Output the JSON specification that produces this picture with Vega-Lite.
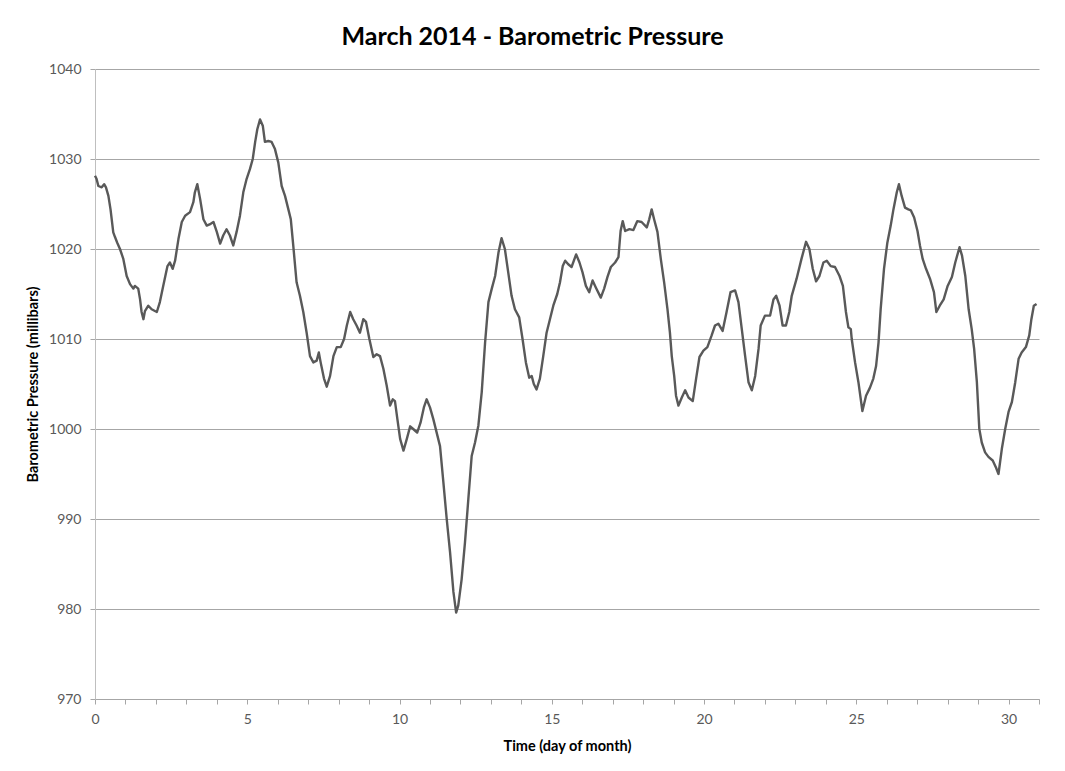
{
  "$schema": "https://vega.github.io/schema/vega-lite/v6.json",
  "autosize": {"type": "none"},
  "width": 944,
  "height": 630,
  "padding": {"left": 95, "top": 69, "right": 26, "bottom": 72},
  "background": "white",
  "title": {
    "text": "March 2014 - Barometric Pressure",
    "font": "Lato",
    "fontSize": 25,
    "fontWeight": "bold",
    "color": "#000000",
    "anchor": "middle",
    "frame": "bounds",
    "offset": 12
  },
  "config": {
    "view": {"stroke": null},
    "axis": {
      "labelFont": "Lato",
      "labelFontSize": 14,
      "labelColor": "#595959",
      "titleFont": "Lato",
      "titleFontSize": 14.5,
      "titleFontWeight": "bold",
      "titleColor": "#000000"
    }
  },
  "data": {
    "values": [
      {"d": 0.0, "p": 1028.15}, {"d": 0.05, "p": 1027.8}, {"d": 0.11, "p": 1027.0}, {"d": 0.22, "p": 1026.85},
      {"d": 0.30, "p": 1027.2}, {"d": 0.36, "p": 1026.85}, {"d": 0.44, "p": 1025.9}, {"d": 0.51, "p": 1024.4},
      {"d": 0.60, "p": 1021.85}, {"d": 0.66, "p": 1021.3}, {"d": 0.73, "p": 1020.7}, {"d": 0.82, "p": 1020.0},
      {"d": 0.93, "p": 1018.9}, {"d": 1.04, "p": 1017.0}, {"d": 1.15, "p": 1016.1}, {"d": 1.26, "p": 1015.6},
      {"d": 1.31, "p": 1015.9}, {"d": 1.42, "p": 1015.6}, {"d": 1.48, "p": 1014.4}, {"d": 1.53, "p": 1013.0},
      {"d": 1.59, "p": 1012.2}, {"d": 1.64, "p": 1013.1}, {"d": 1.75, "p": 1013.7}, {"d": 1.86, "p": 1013.3},
      {"d": 2.03, "p": 1013.0}, {"d": 2.13, "p": 1014.1}, {"d": 2.24, "p": 1015.9}, {"d": 2.38, "p": 1018.1},
      {"d": 2.46, "p": 1018.5}, {"d": 2.55, "p": 1017.8}, {"d": 2.63, "p": 1018.7}, {"d": 2.74, "p": 1021.1},
      {"d": 2.85, "p": 1023.0}, {"d": 2.96, "p": 1023.7}, {"d": 3.12, "p": 1024.1}, {"d": 3.23, "p": 1025.2},
      {"d": 3.28, "p": 1026.3}, {"d": 3.36, "p": 1027.2}, {"d": 3.45, "p": 1025.6}, {"d": 3.56, "p": 1023.3},
      {"d": 3.67, "p": 1022.6}, {"d": 3.80, "p": 1022.8}, {"d": 3.89, "p": 1023.0}, {"d": 4.00, "p": 1021.9},
      {"d": 4.11, "p": 1020.6}, {"d": 4.21, "p": 1021.5}, {"d": 4.32, "p": 1022.2}, {"d": 4.43, "p": 1021.5},
      {"d": 4.54, "p": 1020.4}, {"d": 4.65, "p": 1021.9}, {"d": 4.76, "p": 1023.7}, {"d": 4.87, "p": 1026.3},
      {"d": 4.98, "p": 1027.8}, {"d": 5.09, "p": 1028.9}, {"d": 5.18, "p": 1030.0}, {"d": 5.26, "p": 1031.9},
      {"d": 5.33, "p": 1033.3}, {"d": 5.42, "p": 1034.4}, {"d": 5.51, "p": 1033.7}, {"d": 5.58, "p": 1031.9},
      {"d": 5.69, "p": 1032.0}, {"d": 5.80, "p": 1031.9}, {"d": 5.91, "p": 1031.1}, {"d": 6.02, "p": 1029.6},
      {"d": 6.13, "p": 1027.0}, {"d": 6.24, "p": 1025.9}, {"d": 6.35, "p": 1024.4}, {"d": 6.43, "p": 1023.3},
      {"d": 6.51, "p": 1020.4}, {"d": 6.62, "p": 1016.3}, {"d": 6.73, "p": 1014.8}, {"d": 6.84, "p": 1013.0},
      {"d": 6.95, "p": 1010.7}, {"d": 7.06, "p": 1008.1}, {"d": 7.17, "p": 1007.4}, {"d": 7.28, "p": 1007.6},
      {"d": 7.35, "p": 1008.5}, {"d": 7.41, "p": 1007.4}, {"d": 7.52, "p": 1005.6}, {"d": 7.61, "p": 1004.7},
      {"d": 7.72, "p": 1005.9}, {"d": 7.83, "p": 1008.1}, {"d": 7.94, "p": 1009.1}, {"d": 8.07, "p": 1009.1},
      {"d": 8.18, "p": 1010.0}, {"d": 8.27, "p": 1011.5}, {"d": 8.38, "p": 1013.0}, {"d": 8.48, "p": 1012.2},
      {"d": 8.59, "p": 1011.5}, {"d": 8.70, "p": 1010.7}, {"d": 8.81, "p": 1012.2}, {"d": 8.90, "p": 1011.9},
      {"d": 9.01, "p": 1010.0}, {"d": 9.14, "p": 1008.0}, {"d": 9.25, "p": 1008.3}, {"d": 9.36, "p": 1008.1},
      {"d": 9.47, "p": 1006.7}, {"d": 9.58, "p": 1004.8}, {"d": 9.69, "p": 1002.6}, {"d": 9.78, "p": 1003.3},
      {"d": 9.85, "p": 1003.1}, {"d": 9.93, "p": 1001.1}, {"d": 10.02, "p": 998.9}, {"d": 10.13, "p": 997.6},
      {"d": 10.24, "p": 998.9}, {"d": 10.35, "p": 1000.3}, {"d": 10.45, "p": 1000.0}, {"d": 10.58, "p": 999.6},
      {"d": 10.69, "p": 1000.7}, {"d": 10.80, "p": 1002.4}, {"d": 10.89, "p": 1003.3}, {"d": 11.00, "p": 1002.4},
      {"d": 11.11, "p": 1001.1}, {"d": 11.22, "p": 999.6}, {"d": 11.33, "p": 998.1}, {"d": 11.44, "p": 994.1},
      {"d": 11.55, "p": 990.0}, {"d": 11.66, "p": 986.3}, {"d": 11.77, "p": 981.9}, {"d": 11.86, "p": 979.6},
      {"d": 11.93, "p": 980.4}, {"d": 12.04, "p": 983.3}, {"d": 12.15, "p": 987.4}, {"d": 12.26, "p": 992.2},
      {"d": 12.37, "p": 997.0}, {"d": 12.48, "p": 998.5}, {"d": 12.59, "p": 1000.4}, {"d": 12.70, "p": 1004.1},
      {"d": 12.81, "p": 1009.6}, {"d": 12.92, "p": 1014.1}, {"d": 13.03, "p": 1015.6}, {"d": 13.14, "p": 1017.0},
      {"d": 13.25, "p": 1019.6}, {"d": 13.35, "p": 1021.2}, {"d": 13.46, "p": 1020.0}, {"d": 13.57, "p": 1017.4},
      {"d": 13.68, "p": 1014.8}, {"d": 13.79, "p": 1013.3}, {"d": 13.93, "p": 1012.4}, {"d": 14.04, "p": 1010.0},
      {"d": 14.15, "p": 1007.4}, {"d": 14.26, "p": 1005.7}, {"d": 14.34, "p": 1005.9}, {"d": 14.41, "p": 1005.0},
      {"d": 14.50, "p": 1004.4}, {"d": 14.61, "p": 1005.6}, {"d": 14.72, "p": 1008.1}, {"d": 14.83, "p": 1010.7},
      {"d": 14.94, "p": 1012.2}, {"d": 15.05, "p": 1013.7}, {"d": 15.18, "p": 1015.0}, {"d": 15.27, "p": 1016.3},
      {"d": 15.36, "p": 1018.1}, {"d": 15.44, "p": 1018.7}, {"d": 15.54, "p": 1018.3}, {"d": 15.65, "p": 1018.0},
      {"d": 15.80, "p": 1019.4}, {"d": 15.91, "p": 1018.5}, {"d": 16.01, "p": 1017.4}, {"d": 16.12, "p": 1015.9},
      {"d": 16.23, "p": 1015.2}, {"d": 16.34, "p": 1016.5}, {"d": 16.45, "p": 1015.7}, {"d": 16.61, "p": 1014.6},
      {"d": 16.72, "p": 1015.6}, {"d": 16.83, "p": 1016.9}, {"d": 16.94, "p": 1018.0}, {"d": 17.08, "p": 1018.5},
      {"d": 17.19, "p": 1019.1}, {"d": 17.26, "p": 1022.0}, {"d": 17.33, "p": 1023.1}, {"d": 17.41, "p": 1022.0},
      {"d": 17.55, "p": 1022.2}, {"d": 17.68, "p": 1022.1}, {"d": 17.81, "p": 1023.1}, {"d": 17.95, "p": 1023.0},
      {"d": 18.12, "p": 1022.4}, {"d": 18.20, "p": 1023.3}, {"d": 18.28, "p": 1024.4}, {"d": 18.36, "p": 1023.3},
      {"d": 18.47, "p": 1021.9}, {"d": 18.58, "p": 1018.9}, {"d": 18.69, "p": 1016.3}, {"d": 18.80, "p": 1013.3},
      {"d": 18.88, "p": 1010.7}, {"d": 18.94, "p": 1008.1}, {"d": 19.02, "p": 1005.9}, {"d": 19.08, "p": 1003.7},
      {"d": 19.16, "p": 1002.6}, {"d": 19.27, "p": 1003.5}, {"d": 19.38, "p": 1004.3}, {"d": 19.49, "p": 1003.5},
      {"d": 19.63, "p": 1003.1}, {"d": 19.74, "p": 1005.6}, {"d": 19.85, "p": 1008.0}, {"d": 19.98, "p": 1008.7},
      {"d": 20.11, "p": 1009.1}, {"d": 20.25, "p": 1010.4}, {"d": 20.36, "p": 1011.5}, {"d": 20.47, "p": 1011.7},
      {"d": 20.61, "p": 1010.9}, {"d": 20.74, "p": 1013.0}, {"d": 20.87, "p": 1015.2}, {"d": 21.02, "p": 1015.4},
      {"d": 21.13, "p": 1014.1}, {"d": 21.24, "p": 1011.1}, {"d": 21.35, "p": 1008.1}, {"d": 21.46, "p": 1005.2},
      {"d": 21.57, "p": 1004.3}, {"d": 21.68, "p": 1005.9}, {"d": 21.79, "p": 1008.9}, {"d": 21.86, "p": 1011.5},
      {"d": 22.00, "p": 1012.6}, {"d": 22.17, "p": 1012.6}, {"d": 22.28, "p": 1014.4}, {"d": 22.37, "p": 1014.8},
      {"d": 22.48, "p": 1013.7}, {"d": 22.58, "p": 1011.5}, {"d": 22.69, "p": 1011.5}, {"d": 22.80, "p": 1013.0},
      {"d": 22.88, "p": 1014.8}, {"d": 23.04, "p": 1016.7}, {"d": 23.20, "p": 1018.9}, {"d": 23.35, "p": 1020.8},
      {"d": 23.46, "p": 1020.0}, {"d": 23.57, "p": 1017.8}, {"d": 23.68, "p": 1016.4}, {"d": 23.79, "p": 1017.0},
      {"d": 23.92, "p": 1018.5}, {"d": 24.03, "p": 1018.7}, {"d": 24.16, "p": 1018.1}, {"d": 24.30, "p": 1018.0},
      {"d": 24.45, "p": 1017.0}, {"d": 24.56, "p": 1015.9}, {"d": 24.66, "p": 1013.0}, {"d": 24.74, "p": 1011.3},
      {"d": 24.82, "p": 1011.1}, {"d": 24.85, "p": 1010.0}, {"d": 24.96, "p": 1007.4}, {"d": 25.07, "p": 1005.2},
      {"d": 25.20, "p": 1002.0}, {"d": 25.32, "p": 1003.7}, {"d": 25.45, "p": 1004.6}, {"d": 25.56, "p": 1005.6},
      {"d": 25.65, "p": 1007.0}, {"d": 25.73, "p": 1009.6}, {"d": 25.80, "p": 1013.3}, {"d": 25.91, "p": 1017.8},
      {"d": 26.02, "p": 1020.7}, {"d": 26.13, "p": 1022.6}, {"d": 26.22, "p": 1024.4}, {"d": 26.33, "p": 1026.3},
      {"d": 26.40, "p": 1027.2}, {"d": 26.49, "p": 1025.9}, {"d": 26.60, "p": 1024.6}, {"d": 26.71, "p": 1024.4},
      {"d": 26.79, "p": 1024.3}, {"d": 26.90, "p": 1023.5}, {"d": 27.01, "p": 1022.0}, {"d": 27.09, "p": 1020.4},
      {"d": 27.18, "p": 1018.9}, {"d": 27.29, "p": 1017.8}, {"d": 27.42, "p": 1016.7}, {"d": 27.55, "p": 1015.2},
      {"d": 27.63, "p": 1013.0}, {"d": 27.74, "p": 1013.7}, {"d": 27.87, "p": 1014.4}, {"d": 28.00, "p": 1015.9},
      {"d": 28.14, "p": 1016.9}, {"d": 28.25, "p": 1018.5}, {"d": 28.39, "p": 1020.2}, {"d": 28.47, "p": 1019.3},
      {"d": 28.58, "p": 1017.0}, {"d": 28.69, "p": 1013.3}, {"d": 28.79, "p": 1011.1}, {"d": 28.87, "p": 1008.9},
      {"d": 28.96, "p": 1005.2}, {"d": 29.04, "p": 1000.0}, {"d": 29.12, "p": 998.5}, {"d": 29.23, "p": 997.4},
      {"d": 29.34, "p": 996.9}, {"d": 29.48, "p": 996.5}, {"d": 29.59, "p": 995.7}, {"d": 29.67, "p": 995.0},
      {"d": 29.78, "p": 997.8}, {"d": 29.89, "p": 1000.0}, {"d": 30.00, "p": 1001.9}, {"d": 30.11, "p": 1003.0},
      {"d": 30.22, "p": 1005.2}, {"d": 30.33, "p": 1007.8}, {"d": 30.43, "p": 1008.5}, {"d": 30.57, "p": 1009.1},
      {"d": 30.68, "p": 1010.4}, {"d": 30.75, "p": 1012.2}, {"d": 30.83, "p": 1013.7}, {"d": 30.92, "p": 1013.9}
    ]
  },
  "mark": {"type": "line", "color": "#595959", "strokeWidth": 2.4, "strokeJoin": "round"},
  "encoding": {
    "x": {
      "field": "d",
      "type": "quantitative",
      "scale": {"domain": [0, 31], "nice": false, "zero": false},
      "axis": {
        "title": "Time (day of month)",
        "values": [0,1,2,3,4,5,6,7,8,9,10,11,12,13,14,15,16,17,18,19,20,21,22,23,24,25,26,27,28,29,30,31],
        "labelExpr": "datum.value % 5 === 0 ? datum.label : ''",
        "grid": false,
        "domainColor": "#a6a6a6",
        "tickColor": "#a6a6a6",
        "tickSize": 5,
        "labelPadding": 8,
        "titlePadding": 13,
        "labelFlush": false
      }
    },
    "y": {
      "field": "p",
      "type": "quantitative",
      "scale": {"domain": [970, 1040], "nice": false, "zero": false},
      "axis": {
        "title": "Barometric Pressure (millibars)",
        "format": "d",
        "values": [970, 980, 990, 1000, 1010, 1020, 1030, 1040],
        "grid": true,
        "gridColor": "#a6a6a6",
        "gridWidth": 1,
        "domainColor": "#bfbfbf",
        "tickColor": "#a6a6a6",
        "tickSize": 5,
        "labelPadding": 9,
        "titlePadding": 8,
        "labelFlush": false
      }
    }
  }
}
